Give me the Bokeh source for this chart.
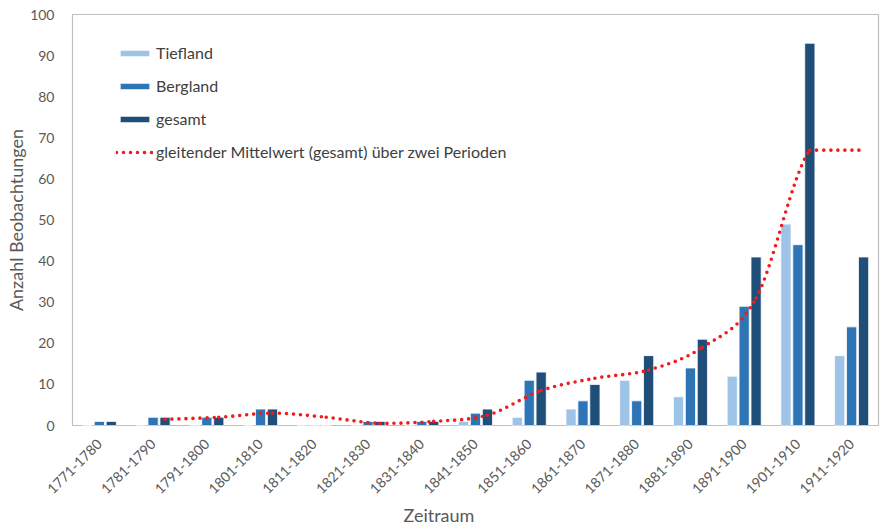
import math
from bokeh.plotting import figure
from bokeh.models import Range1d, FixedTicker, Legend, LegendItem, Title
from bokeh.embed import file_html
from bokeh.resources import INLINE

periods = ["1771-1780", "1781-1790", "1791-1800", "1801-1810", "1811-1820",
           "1821-1830", "1831-1840", "1841-1850", "1851-1860", "1861-1870",
           "1871-1880", "1881-1890", "1891-1900", "1901-1910", "1911-1920"]
tiefland = [0, 0, 0, 0, 0, 0, 0, 1, 2, 4, 11, 7, 12, 49, 17]
bergland = [1, 2, 2, 4, 0, 1, 1, 3, 11, 6, 6, 14, 29, 44, 24]
gesamt = [1, 2, 2, 4, 0, 1, 1, 4, 13, 10, 17, 21, 41, 93, 41]
# moving average of "gesamt" over two periods (starts with 2nd period)
mittel_periods = periods[1:]
mittel = [1.5, 2, 3, 2, 0.5, 1, 2.5, 8.5, 11.5, 13.5, 19, 31, 67, 67]

FONT = "Lato"
TXT = "#595959"
C_TIEF = "#9dc3e6"
C_BERG = "#2e75b6"
C_GES = "#1f4e79"
C_RED = "#ee1c1c"

n = len(periods)
idx = {c: i for i, c in enumerate(periods)}
centers = [i + 0.5 for i in range(n)]
off = 0.222
bw = 0.19

p = figure(width=885, height=527, output_backend="svg", toolbar_location=None,
           x_range=Range1d(0, n), y_range=Range1d(0, 100),
           min_border_left=72, min_border_right=7, min_border_top=14,
           min_border_bottom=102)
p.background_fill_color = "white"
p.border_fill_color = "white"
p.outline_line_color = "#bfbfbf"
p.outline_line_width = 1.2
p.xgrid.visible = False
p.ygrid.visible = False

r_t = p.vbar(x=[c - off for c in centers], top=tiefland, width=bw, bottom=0,
             fill_color=C_TIEF, line_color="white", line_width=0.8)
r_b = p.vbar(x=centers, top=bergland, width=bw, bottom=0,
             fill_color=C_BERG, line_color="white", line_width=0.8)
r_g = p.vbar(x=[c + off for c in centers], top=gesamt, width=bw, bottom=0,
             fill_color=C_GES, line_color="white", line_width=0.8)

# smooth curve (monotone-clamped cubic Bezier) through moving-average points
mx = [idx[c] + 0.5 + off for c in mittel_periods]
my = mittel
m = len(mx)
x0, y0, x1, y1, cx0, cy0, cx1, cy1 = [], [], [], [], [], [], [], []


def clamp(v, a, b):
    lo, hi = min(a, b), max(a, b)
    return max(lo, min(hi, v))


for i in range(m - 1):
    pxm, pym = (mx[i - 1], my[i - 1]) if i > 0 else (mx[i], my[i])
    pxp, pyp = (mx[i + 2], my[i + 2]) if i + 2 < m else (mx[i + 1], my[i + 1])
    x0.append(mx[i]); y0.append(my[i])
    x1.append(mx[i + 1]); y1.append(my[i + 1])
    cx0.append(mx[i] + (mx[i + 1] - pxm) / 6.0)
    cy0.append(clamp(my[i] + (my[i + 1] - pym) / 6.0, my[i], my[i + 1]))
    cx1.append(mx[i + 1] - (pxp - mx[i]) / 6.0)
    cy1.append(clamp(my[i + 1] - (pyp - my[i]) / 6.0, my[i], my[i + 1]))
r_ma = p.bezier(x0=x0, y0=y0, x1=x1, y1=y1, cx0=cx0, cy0=cy0, cx1=cx1, cy1=cy1,
                line_color=C_RED, line_width=3.6, line_dash="0 7",
                line_cap="round")

# axes
xa = p.xaxis[0]
xa.ticker = FixedTicker(ticks=centers)
xa.major_label_overrides = {c: lab for c, lab in zip(centers, periods)}
xa.major_label_orientation = math.pi / 4
ya = p.yaxis[0]
ya.ticker = FixedTicker(ticks=list(range(0, 101, 10)))
for ax in (xa, ya):
    ax.axis_line_color = None
    ax.major_tick_line_color = None
    ax.minor_tick_line_color = None
    ax.major_label_text_font = FONT
    ax.major_label_text_color = TXT
    ax.major_label_text_font_size = "14px"
xa.major_label_standoff = 10
ya.major_label_standoff = 12

t_x = Title(text="Zeitraum", align="left", offset=331, standoff=1,
            text_font=FONT, text_font_size="18px", text_color=TXT,
            text_font_style="normal")
p.add_layout(t_x, "below")
t_y = Title(text="Anzahl Beobachtungen", align="center", standoff=2,
            text_font=FONT, text_font_size="18px", text_color=TXT,
            text_font_style="normal")
p.add_layout(t_y, "left")

legend = Legend(items=[
    LegendItem(label="Tiefland", renderers=[r_t]),
    LegendItem(label="Bergland", renderers=[r_b]),
    LegendItem(label="gesamt", renderers=[r_g]),
    LegendItem(label="gleitender Mittelwert (gesamt) über zwei Perioden",
               renderers=[r_ma]),
], location=(44, 263))
legend.border_line_color = None
legend.background_fill_alpha = 0
legend.padding = 5
legend.margin = 0
legend.spacing = 12
legend.glyph_width = 37
legend.glyph_height = 8
legend.label_height = 21
legend.label_standoff = 3
legend.label_text_font = FONT
legend.label_text_font_size = "16px"
legend.label_text_color = "#404040"
p.add_layout(legend)

open("out.html", "w").write(file_html(p, INLINE))
